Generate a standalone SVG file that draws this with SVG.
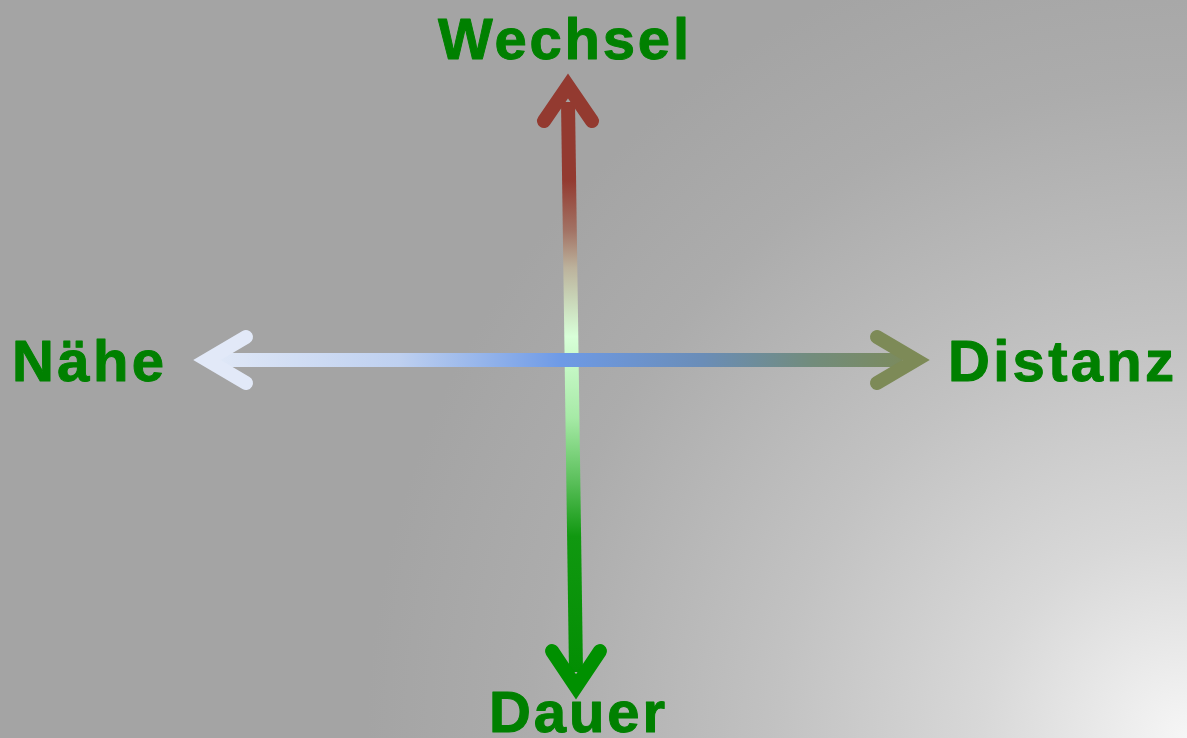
<svg xmlns="http://www.w3.org/2000/svg" width="1187" height="738" viewBox="0 0 1187 738">
<defs>
<radialGradient id="bg" gradientUnits="userSpaceOnUse" cx="1187" cy="738" r="820">
<stop offset="0" stop-color="#f6f6f6"/>
<stop offset="0.25" stop-color="#d8d8d8"/>
<stop offset="0.5" stop-color="#c2c2c2"/>
<stop offset="0.8" stop-color="#acacac"/>
<stop offset="1" stop-color="#a4a4a4"/>
</radialGradient>
<linearGradient id="gv" gradientUnits="userSpaceOnUse" x1="0" y1="74" x2="0" y2="699">
<stop offset="0" stop-color="#933a30"/>
<stop offset="0.17" stop-color="#933a30"/>
<stop offset="0.25" stop-color="#a27264"/>
<stop offset="0.31" stop-color="#bcb29c"/>
<stop offset="0.42" stop-color="#d8ffd8"/>
<stop offset="0.55" stop-color="#a6eaa6"/>
<stop offset="0.65" stop-color="#5cc05c"/>
<stop offset="0.74" stop-color="#109810"/>
<stop offset="1" stop-color="#008c00"/>
</linearGradient>
<linearGradient id="gh" gradientUnits="userSpaceOnUse" x1="193" y1="0" x2="930" y2="0">
<stop offset="0" stop-color="#e4ebf8"/>
<stop offset="0.28" stop-color="#bed0f0"/>
<stop offset="0.5" stop-color="#6e9ae6"/>
<stop offset="0.69" stop-color="#6a8db8"/>
<stop offset="0.84" stop-color="#728c7c"/>
<stop offset="1" stop-color="#7e8a55"/>
</linearGradient>
</defs>
<style>
.lbl{font-family:"Liberation Sans",Arial,sans-serif;font-weight:bold;font-size:58px;fill:#008000;stroke:#008000;stroke-width:1;stroke-linejoin:round}
.shaft{fill:none;stroke-width:14;stroke-linecap:butt}
.head{fill:none;stroke-width:14;stroke-linecap:round;stroke-linejoin:miter;stroke-miterlimit:10}
</style>
<rect x="0" y="0" width="1187" height="738" fill="url(#bg)"/>
<g id="connectors">
<g id="vertical-axis">
<line class="shaft" x1="568" y1="102" x2="576" y2="672" stroke="url(#gv)"/>
<polyline class="head" points="544,121 568,86 592,121" stroke="#933a30"/>
<polyline class="head" points="552,651 576,687 600,651" stroke="#009000"/>
</g>
<g id="horizontal-axis">
<line class="shaft" x1="220" y1="360" x2="902" y2="360" stroke="url(#gh)"/>
<polyline class="head" points="246,337 207,360 246,383" stroke="#e2e9f8"/>
<polyline class="head" points="877,337 916,360 877,383" stroke="#7d8a57"/>
</g>
</g>
<g id="node-wechsel"><text class="lbl" x="438" y="59" textLength="251" lengthAdjust="spacing">Wechsel</text></g>
<g id="node-naehe"><text class="lbl" x="12" y="381" textLength="152" lengthAdjust="spacing">Nähe</text></g>
<g id="node-distanz"><text class="lbl" x="948" y="381" textLength="226" lengthAdjust="spacing">Distanz</text></g>
<g id="node-dauer"><text class="lbl" x="489" y="732" textLength="176" lengthAdjust="spacing">Dauer</text></g>
</svg>
